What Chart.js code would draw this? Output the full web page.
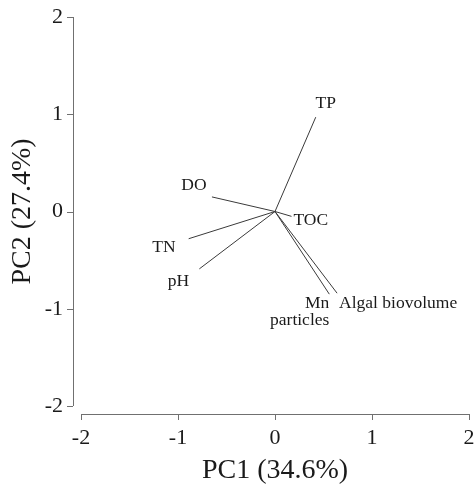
<!DOCTYPE html>
<html>
<head>
<meta charset="utf-8">
<script src="https://cdn.jsdelivr.net/npm/chart.js@4.4.1/dist/chart.umd.min.js"></script>
<style>
  html, body { margin: 0; padding: 0; background: #fff; }
  #wrap { width: 475px; height: 489px; }
</style>
</head>
<body>
<div id="wrap"><canvas id="myChart" width="475" height="489"></canvas></div>
<script>
// PCA loadings
const variables = ["TP", "DO", "TOC", "TN", "pH", "Mn particles", "Algal biovolume"];
const pc1 = [0.42, -0.65, 0.17, -0.89, -0.78, 0.56, 0.64];
const pc2 = [0.97, 0.15, -0.05, -0.28, -0.59, -0.85, -0.84];
const axisTicks = [-2, -1, 0, 1, 2];

// where each label sits relative to the arrow tip (pixels) - styling only
const labelPlace = {
  "TP": { dx: 10, dy: -14, align: "center" },
  "DO": { dx: -18, dy: -12, align: "center" },
  "TOC": { dx: 2, dy: 4, align: "left" },
  "TN": { dx: -13, dy: 9, align: "right" },
  "pH": { dx: -21, dy: 13, align: "center" },
  "Mn particles": { dx: 0, dy: 9, align: "right", lines: ["Mn", "particles"] },
  "Algal biovolume": { dx: 2, dy: 10, align: "left" }
};

const serif = "'Liberation Serif', 'Times New Roman', serif";
const lineColor = "#3a3a3a";
const axisColor = "#707070";

const datasets = variables.map((name, i) => ({
  label: name,
  data: [{ x: 0, y: 0 }, { x: pc1[i], y: pc2[i] }],
  showLine: true,
  borderColor: lineColor,
  borderWidth: 1,
  pointRadius: 0,
  pointHoverRadius: 0,
  fill: false
}));

// offset axes with outward ticks, like the base R plot
const offsetAxes = {
  id: "offsetAxes",
  afterDraw(chart) {
    const ctx = chart.ctx;
    const xs = chart.scales.x, ys = chart.scales.y;
    const gap = 8, tl = 6;
    const yLine = chart.chartArea.bottom + gap;
    const xLine = chart.chartArea.left - gap;
    ctx.save();
    ctx.strokeStyle = axisColor;
    ctx.lineWidth = 1;
    ctx.beginPath();
    ctx.moveTo(xs.getPixelForValue(-2), yLine + 0.5);
    ctx.lineTo(xs.getPixelForValue(2), yLine + 0.5);
    axisTicks.forEach(v => {
      const px = Math.round(xs.getPixelForValue(v)) + 0.5;
      ctx.moveTo(px, yLine);
      ctx.lineTo(px, yLine + tl);
    });
    ctx.moveTo(xLine + 0.5, ys.getPixelForValue(2));
    ctx.lineTo(xLine + 0.5, ys.getPixelForValue(-2));
    axisTicks.forEach(v => {
      const py = Math.round(ys.getPixelForValue(v)) + 0.5;
      ctx.moveTo(xLine, py);
      ctx.lineTo(xLine - tl, py);
    });
    ctx.stroke();

    // variable labels at the arrow tips
    ctx.fillStyle = "#1a1a1a";
    ctx.font = "17.5px " + serif;
    ctx.textBaseline = "middle";
    variables.forEach((name, i) => {
      const p = labelPlace[name];
      const px = xs.getPixelForValue(pc1[i]) + p.dx;
      const py = ys.getPixelForValue(pc2[i]) + p.dy;
      ctx.textAlign = p.align;
      const lines = p.lines || [name];
      lines.forEach((t, k) => ctx.fillText(t, px, py + k * 17));
    });
    ctx.restore();
  }
};

var ctx = document.getElementById("myChart").getContext("2d");
var myChart = new Chart(ctx, {
  type: "scatter",
  data: { datasets: datasets },
  options: {
    responsive: false,
    animation: false,
    layout: { padding: { top: 17, right: 6, left: 0, bottom: 0 } },
    plugins: { legend: { display: false }, tooltip: { enabled: false } },
    scales: {
      x: {
        type: "linear",
        min: -2, max: 2,
        afterBuildTicks: s => { s.ticks = axisTicks.map(v => ({ value: v })); },
        afterFit: s => { s.height = 83; s.paddingLeft = 0; s.paddingRight = 0; },
        grid: { display: false, drawTicks: false },
        border: { display: false },
        ticks: { color: "#1a1a1a", padding: 19, font: { family: serif, size: 22 }, maxRotation: 0 },
        title: { display: true, text: "PC1 (34.6%)", color: "#1a1a1a", padding: { top: 0, bottom: 2 }, font: { family: serif, size: 28 } }
      },
      y: {
        type: "linear",
        min: -2, max: 2,
        afterBuildTicks: s => { s.ticks = axisTicks.map(v => ({ value: v })); },
        afterFit: s => { s.width = 81; s.paddingTop = 0; s.paddingBottom = 0; },
        grid: { display: false, drawTicks: false },
        border: { display: false },
        ticks: { color: "#1a1a1a", padding: 18, font: { family: serif, size: 22 } },
        title: { display: true, text: "PC2 (27.4%)", color: "#1a1a1a", padding: { top: 6, bottom: 0 }, font: { family: serif, size: 28 } }
      }
    }
  },
  plugins: [offsetAxes]
});
</script>
</body>
</html>
